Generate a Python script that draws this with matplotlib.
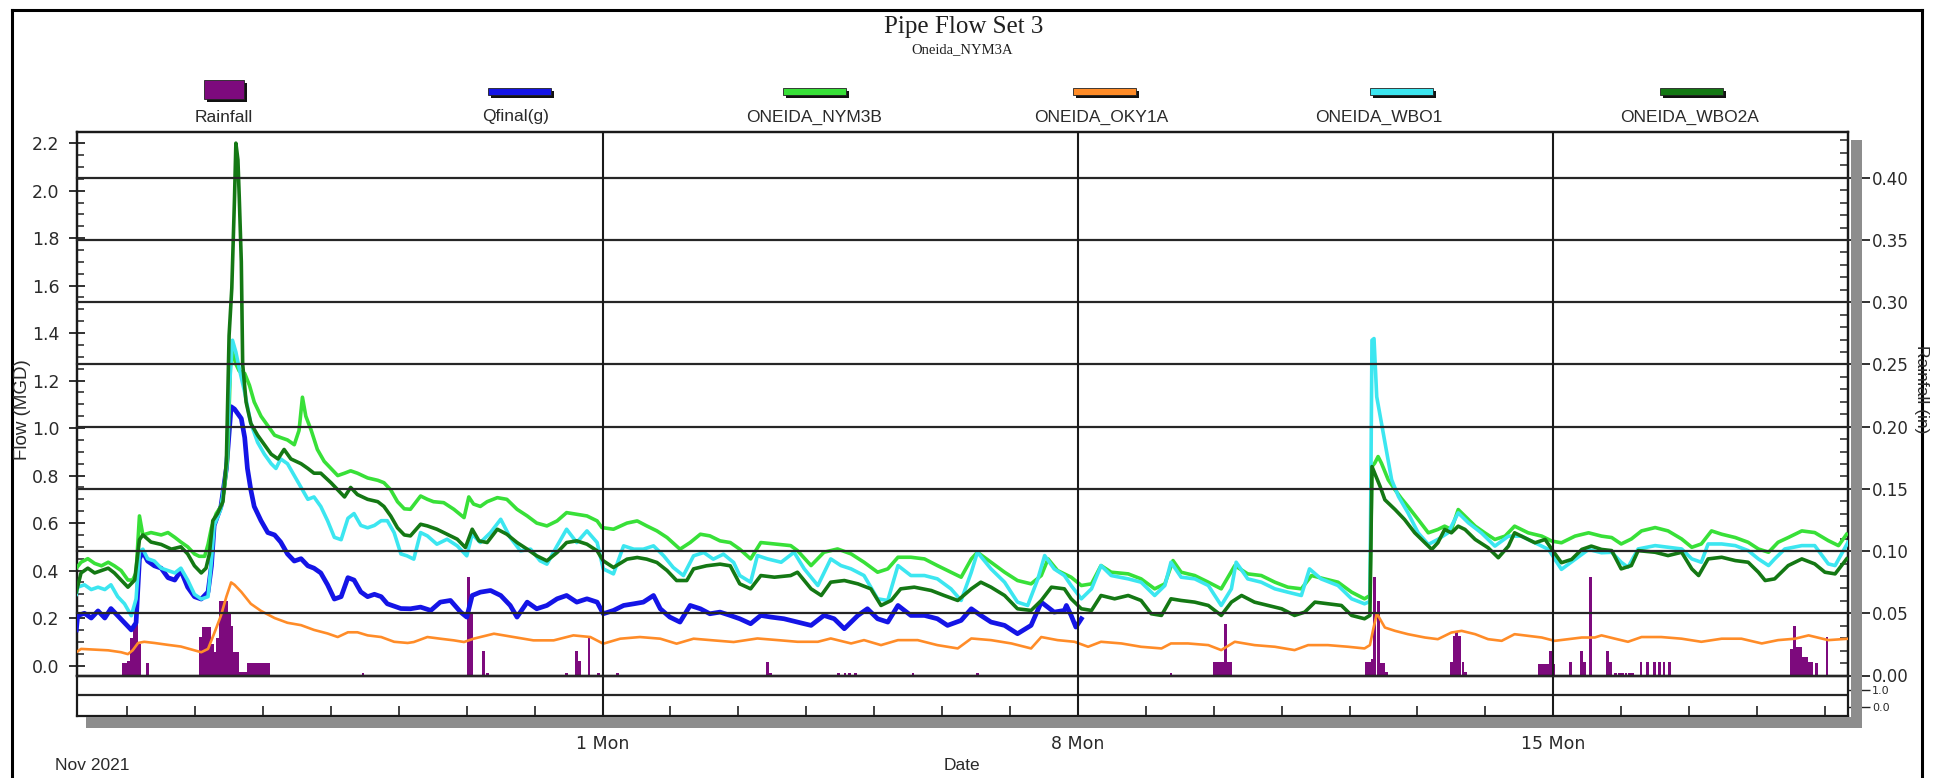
import datetime as dt
import numpy as np
import matplotlib
matplotlib.use("Agg")
import matplotlib.pyplot as plt
from matplotlib.patches import Rectangle
from matplotlib.lines import Line2D
from matplotlib.ticker import MultipleLocator, FixedLocator
from matplotlib.transforms import blended_transform_factory

# ------------------------------------------------------------------ data
# time values are days from start_date (Nov 1 2021 00:00)
start_date = dt.datetime(2021, 11, 1)
x_range = (-7.747, 18.34)
day_labels = [0, 7, 14]

series_names = ["Rainfall", "Qfinal(g)", "ONEIDA_NYM3B", "ONEIDA_OKY1A", "ONEIDA_WBO1", "ONEIDA_WBO2A"]
series_colors = ["#7D0A7D", "#1414E6", "#38E038", "#FF8C28", "#3CE6F0", "#147814"]

rainfall = [(-7.08,0.010),(-7.04,0.010),(-7.00,0.012),(-6.96,0.030),(-6.92,0.039),(-6.88,0.047),(-6.84,0.025),(-6.72,0.010),
    (-5.94,0.031),(-5.90,0.039),(-5.85,0.039),(-5.81,0.039),(-5.77,0.025),(-5.73,0.019),(-5.69,0.030),(-5.65,0.060),(-5.60,0.060),
    (-5.56,0.060),(-5.52,0.051),(-5.48,0.040),(-5.44,0.019),(-5.40,0.019),(-5.35,0.003),(-5.31,0.003),(-5.27,0.003),(-5.23,0.010),
    (-5.19,0.010),(-5.15,0.010),(-5.10,0.010),(-5.06,0.010),(-5.02,0.010),(-4.98,0.010),(-4.94,0.010),(-3.55,0.002),
    (-1.99,0.079),(-1.95,0.050),(-1.77,0.020),(-1.72,0.002),(-0.55,0.002),(-0.40,0.020),(-0.36,0.012),(-0.22,0.031),(-0.08,0.002),
    (0.20,0.002),(2.41,0.011),(2.45,0.002),(3.45,0.002),(3.55,0.002),(3.62,0.002),(3.70,0.002),(4.55,0.002),(5.50,0.002),
    (8.35,0.002),(8.99,0.011),(9.03,0.011),(9.07,0.011),(9.11,0.011),(9.15,0.041),(9.19,0.011),(9.23,0.011),
    (11.23,0.011),(11.27,0.011),(11.31,0.013),(11.35,0.079),(11.40,0.060),(11.44,0.010),(11.48,0.010),(11.52,0.003),
    (12.48,0.011),(12.52,0.032),(12.56,0.035),(12.60,0.032),(12.65,0.011),(12.69,0.003),
    (13.77,0.009),(13.81,0.009),(13.85,0.009),(13.89,0.009),(13.94,0.020),(13.98,0.009),
    (14.23,0.011),(14.40,0.020),(14.44,0.011),(14.53,0.079),(14.78,0.020),(14.82,0.011),(14.90,0.002),(14.95,0.002),(15.00,0.002),
    (15.05,0.002),(15.10,0.002),(15.15,0.002),(15.27,0.011),(15.37,0.011),(15.47,0.011),(15.54,0.011),(15.61,0.011),(15.69,0.011),
    (17.49,0.021),(17.53,0.040),(17.58,0.023),(17.62,0.023),(17.66,0.015),(17.71,0.015),(17.75,0.011),(17.79,0.011),(17.85,0.010),
    (18.01,0.031)]

qfinal = [(-7.75,0.15),(-7.73,0.21),(-7.63,0.22),(-7.53,0.20),(-7.43,0.23),(-7.33,0.20),(-7.24,0.24),(-7.14,0.21),(-7.04,0.18),
    (-6.94,0.15),(-6.87,0.18),(-6.82,0.45),(-6.77,0.48),(-6.70,0.44),(-6.60,0.42),(-6.50,0.41),(-6.40,0.37),(-6.30,0.36),(-6.21,0.40),
    (-6.11,0.33),(-6.01,0.29),(-5.91,0.28),(-5.81,0.31),(-5.76,0.42),(-5.72,0.59),(-5.62,0.67),(-5.54,0.83),(-5.47,1.09),(-5.42,1.08),
    (-5.37,1.06),(-5.32,1.04),(-5.27,0.96),(-5.23,0.83),(-5.18,0.74),(-5.13,0.67),(-5.03,0.61),(-4.93,0.56),(-4.83,0.55),(-4.74,0.52),
    (-4.64,0.47),(-4.54,0.44),(-4.44,0.45),(-4.34,0.42),(-4.25,0.41),(-4.15,0.39),(-4.05,0.34),(-3.95,0.28),(-3.85,0.29),(-3.75,0.37),
    (-3.66,0.36),(-3.56,0.31),(-3.46,0.29),(-3.36,0.30),(-3.26,0.29),(-3.17,0.26),(-3.07,0.25),(-2.97,0.24),
    (-2.83,0.239),(-2.68,0.246),(-2.53,0.232),(-2.39,0.267),(-2.24,0.274),(-2.09,0.225),(-2.00,0.204),(-1.92,0.295),(-1.80,0.309),
    (-1.65,0.316),(-1.50,0.295),(-1.36,0.253),(-1.26,0.204),(-1.11,0.267),(-0.97,0.239),(-0.82,0.253),(-0.67,0.281),(-0.53,0.295),
    (-0.38,0.267),(-0.23,0.281),(-0.08,0.267),(0.01,0.218),(0.16,0.232),(0.31,0.253),(0.46,0.26),(0.60,0.267),(0.75,0.295),
    (0.85,0.239),(0.99,0.204),(1.14,0.183),(1.29,0.253),(1.44,0.239),(1.58,0.218),(1.73,0.225),(1.88,0.211),(2.02,0.197),
    (2.18,0.176),(2.33,0.211),(2.48,0.204),(2.67,0.197),(2.87,0.183),(3.07,0.169),(3.26,0.211),(3.41,0.197),(3.56,0.155),
    (3.76,0.211),(3.90,0.239),(4.05,0.197),(4.20,0.183),(4.35,0.253),(4.54,0.211),(4.74,0.211),(4.93,0.197),(5.08,0.169),
    (5.28,0.19),(5.43,0.239),(5.57,0.211),(5.72,0.183),(5.92,0.169),(6.11,0.134),(6.31,0.169),(6.46,0.267),(6.65,0.225),
    (6.80,0.232),(6.83,0.253),(6.90,0.211),(6.97,0.162),(7.05,0.197)]

nym3b = [(-7.75,0.41),(-7.68,0.435),(-7.58,0.45),(-7.48,0.43),(-7.38,0.42),(-7.28,0.435),(-7.19,0.42),(-7.09,0.40),(-6.99,0.36),
    (-6.92,0.36),(-6.87,0.39),(-6.82,0.63),(-6.77,0.55),(-6.65,0.56),(-6.50,0.55),(-6.40,0.56),(-6.30,0.54),(-6.21,0.52),(-6.11,0.50),
    (-6.01,0.47),(-5.94,0.46),(-5.86,0.46),(-5.81,0.51),(-5.76,0.58),(-5.69,0.64),(-5.62,0.67),(-5.57,0.74),(-5.52,0.88),(-5.48,1.27),
    (-5.45,1.32),(-5.40,1.27),(-5.35,1.24),(-5.27,1.23),(-5.20,1.18),(-5.13,1.11),(-5.03,1.05),(-4.93,1.01),(-4.83,0.97),(-4.74,0.96),
    (-4.64,0.95),(-4.54,0.93),(-4.47,0.99),(-4.42,1.13),(-4.37,1.05),(-4.29,0.99),(-4.20,0.91),(-4.10,0.86),(-4.00,0.83),(-3.90,0.80),
    (-3.80,0.81),(-3.71,0.82),(-3.61,0.81),(-3.46,0.79),(-3.31,0.78),(-3.22,0.77),(-3.12,0.74),(-3.02,0.69),(-2.92,0.66),
    (-2.83,0.658),(-2.68,0.714),(-2.58,0.70),(-2.49,0.69),(-2.34,0.686),(-2.19,0.658),(-2.04,0.623),(-1.97,0.71),(-1.90,0.68),
    (-1.80,0.67),(-1.70,0.69),(-1.55,0.707),(-1.41,0.70),(-1.26,0.658),(-1.11,0.63),(-0.97,0.60),(-0.82,0.588),(-0.67,0.609),
    (-0.53,0.644),(-0.38,0.637),(-0.23,0.63),(-0.08,0.609),(-0.01,0.581),(0.16,0.574),(0.36,0.60),(0.51,0.609),(0.65,0.588),
    (0.80,0.567),(0.95,0.539),(1.14,0.49),(1.29,0.518),(1.44,0.553),(1.58,0.546),(1.73,0.525),(1.88,0.518),(2.02,0.49),
    (2.18,0.449),(2.33,0.518),(2.53,0.512),(2.77,0.505),(2.87,0.484),(3.07,0.421),(3.26,0.477),(3.46,0.491),(3.66,0.47),
    (3.85,0.435),(4.05,0.393),(4.20,0.407),(4.35,0.456),(4.54,0.456),(4.74,0.449),(4.93,0.421),(5.13,0.393),(5.28,0.372),
    (5.43,0.449),(5.52,0.477),(5.72,0.435),(5.92,0.393),(6.11,0.358),(6.31,0.344),(6.46,0.379),(6.56,0.449),(6.70,0.40),
    (6.90,0.372),(7.05,0.337),(7.20,0.344),(7.34,0.421),(7.49,0.393),(7.74,0.386),(7.93,0.365),(8.13,0.323),(8.28,0.344),
    (8.40,0.442),(8.52,0.393),(8.72,0.379),(8.92,0.351),(9.11,0.323),(9.31,0.421),(9.50,0.386),(9.70,0.379),(9.90,0.351),
    (10.09,0.33),(10.29,0.323),(10.44,0.379),(10.63,0.365),(10.83,0.351),(11.03,0.309),(11.22,0.281),(11.30,0.295),
    (11.33,0.838),(11.37,0.852),(11.42,0.88),(11.47,0.852),(11.57,0.782),(11.67,0.74),(11.76,0.705),(11.86,0.67),(12.01,0.615),
    (12.16,0.559),(12.30,0.573),(12.40,0.587),(12.50,0.573),(12.60,0.657),(12.70,0.629),(12.85,0.587),(12.99,0.559),(13.14,0.531),
    (13.29,0.545),(13.43,0.587),(13.63,0.559),(13.83,0.545),(13.98,0.524),(14.12,0.517),(14.32,0.545),(14.52,0.559),(14.71,0.545),
    (14.86,0.539),(15.00,0.512),(15.15,0.533),(15.30,0.567),(15.50,0.581),(15.69,0.567),(15.89,0.533),(16.04,0.498),(16.18,0.512),
    (16.33,0.567),(16.48,0.553),(16.68,0.539),(16.87,0.519),(17.02,0.491),(17.17,0.477),(17.31,0.519),(17.46,0.539),(17.66,0.567),
    (17.85,0.56),(18.05,0.526),(18.20,0.505),(18.32,0.553)]

oky1a = [(-7.75,0.056),(-7.68,0.07),(-7.48,0.067),(-7.28,0.064),(-7.09,0.056),(-6.99,0.048),(-6.92,0.064),(-6.84,0.095),(-6.75,0.10),
    (-6.60,0.095),(-6.40,0.087),(-6.21,0.08),(-6.01,0.064),(-5.91,0.056),(-5.81,0.07),(-5.72,0.135),(-5.62,0.21),(-5.54,0.29),
    (-5.47,0.35),(-5.42,0.34),(-5.32,0.31),(-5.18,0.26),(-5.03,0.23),(-4.83,0.20),(-4.64,0.18),(-4.44,0.17),(-4.25,0.15),
    (-4.05,0.135),(-3.90,0.12),(-3.75,0.14),(-3.61,0.14),(-3.46,0.127),(-3.26,0.12),(-3.07,0.10),(-2.87,0.095),
    (-2.78,0.099),(-2.58,0.12),(-2.39,0.113),(-2.19,0.106),(-2.04,0.099),(-1.90,0.113),(-1.60,0.134),(-1.31,0.12),(-1.02,0.106),
    (-0.72,0.106),(-0.43,0.127),(-0.18,0.12),(0.01,0.092),(0.26,0.113),(0.55,0.12),(0.85,0.113),(1.09,0.092),(1.34,0.113),
    (1.63,0.106),(1.93,0.099),(2.28,0.114),(2.58,0.107),(2.87,0.10),(3.17,0.10),(3.36,0.114),(3.66,0.093),(3.85,0.107),
    (4.10,0.086),(4.35,0.107),(4.64,0.107),(4.93,0.086),(5.23,0.072),(5.43,0.114),(5.72,0.107),(6.02,0.093),(6.31,0.072),
    (6.46,0.12),(6.70,0.107),(6.95,0.10),(7.15,0.079),(7.34,0.10),(7.64,0.093),(7.93,0.079),(8.23,0.072),(8.37,0.093),
    (8.62,0.093),(8.92,0.086),(9.11,0.065),(9.31,0.10),(9.60,0.086),(9.90,0.079),(10.19,0.065),(10.39,0.086),(10.68,0.086),
    (10.98,0.079),(11.22,0.072),(11.30,0.086),(11.35,0.155),(11.40,0.218),(11.42,0.21),(11.52,0.16),(11.67,0.146),(11.86,0.132),
    (12.11,0.118),(12.30,0.111),(12.50,0.139),(12.65,0.146),(12.85,0.132),(13.04,0.111),(13.24,0.104),(13.43,0.132),(13.63,0.125),
    (13.83,0.118),(14.02,0.104),(14.22,0.111),(14.42,0.118),(14.61,0.118),(14.71,0.127),(14.91,0.113),(15.10,0.10),(15.30,0.12),
    (15.59,0.12),(15.89,0.113),(16.18,0.10),(16.48,0.113),(16.77,0.113),(17.07,0.093),(17.31,0.107),(17.56,0.113),(17.76,0.127),
    (18.05,0.107),(18.35,0.113)]

wbo1 = [(-7.75,0.30),(-7.73,0.33),(-7.63,0.34),(-7.53,0.32),(-7.43,0.33),(-7.33,0.32),(-7.24,0.34),(-7.14,0.29),(-7.04,0.26),
    (-6.94,0.21),(-6.87,0.28),(-6.82,0.48),(-6.77,0.49),(-6.70,0.45),(-6.60,0.44),(-6.50,0.41),(-6.40,0.40),(-6.30,0.39),(-6.21,0.41),
    (-6.11,0.36),(-6.01,0.30),(-5.91,0.28),(-5.81,0.29),(-5.76,0.44),(-5.72,0.59),(-5.62,0.66),(-5.54,0.83),(-5.50,1.15),(-5.45,1.37),
    (-5.40,1.32),(-5.35,1.25),(-5.27,1.15),(-5.18,1.02),(-5.08,0.94),(-4.98,0.89),(-4.88,0.85),(-4.81,0.83),(-4.74,0.87),(-4.64,0.85),
    (-4.54,0.80),(-4.44,0.75),(-4.34,0.70),(-4.25,0.71),(-4.15,0.67),(-4.05,0.61),(-3.95,0.54),(-3.85,0.53),(-3.75,0.62),(-3.66,0.64),
    (-3.56,0.59),(-3.46,0.58),(-3.36,0.59),(-3.26,0.61),(-3.17,0.61),(-3.07,0.56),(-2.97,0.47),
    (-2.88,0.462),(-2.78,0.448),(-2.68,0.56),(-2.58,0.546),(-2.44,0.511),(-2.29,0.532),(-2.14,0.504),(-2.00,0.462),(-1.92,0.553),
    (-1.80,0.518),(-1.65,0.56),(-1.50,0.616),(-1.36,0.539),(-1.21,0.483),(-1.06,0.49),(-0.92,0.441),(-0.82,0.427),(-0.67,0.504),
    (-0.53,0.574),(-0.38,0.518),(-0.23,0.567),(-0.08,0.518),(0.01,0.407),(0.16,0.386),(0.31,0.504),(0.46,0.49),(0.60,0.49),
    (0.75,0.504),(0.90,0.462),(1.04,0.413),(1.19,0.379),(1.34,0.462),(1.49,0.476),(1.63,0.448),(1.78,0.469),(1.93,0.434),(2.02,0.379),
    (2.18,0.351),(2.28,0.463),(2.43,0.449),(2.63,0.435),(2.82,0.477),(2.97,0.407),(3.17,0.337),(3.36,0.449),(3.51,0.421),(3.66,0.407),
    (3.85,0.379),(4.05,0.281),(4.20,0.274),(4.35,0.421),(4.54,0.379),(4.74,0.379),(4.93,0.365),(5.13,0.323),(5.28,0.274),(5.43,0.393),
    (5.52,0.477),(5.72,0.407),(5.92,0.351),(6.11,0.267),(6.26,0.253),(6.41,0.365),(6.51,0.463),(6.65,0.407),(6.80,0.379),
    (6.90,0.337),(7.05,0.281),(7.20,0.323),(7.34,0.421),(7.49,0.379),(7.74,0.365),(7.93,0.351),(8.13,0.295),(8.28,0.337),(8.37,0.435),
    (8.52,0.372),(8.72,0.365),(8.92,0.337),(9.11,0.253),(9.26,0.323),(9.33,0.435),(9.50,0.365),(9.70,0.351),(9.90,0.323),(10.09,0.309),
    (10.29,0.295),(10.41,0.407),(10.58,0.365),(10.83,0.337),(11.03,0.281),(11.22,0.26),(11.30,0.27),
    (11.33,1.37),(11.36,1.377),(11.40,1.132),(11.47,1.02),(11.54,0.908),(11.62,0.782),(11.72,0.712),(11.86,0.643),(12.01,0.559),
    (12.16,0.51),(12.30,0.531),(12.45,0.559),(12.60,0.643),(12.75,0.601),(12.94,0.559),(13.14,0.503),(13.34,0.545),(13.53,0.545),
    (13.73,0.517),(13.93,0.489),(14.12,0.405),(14.32,0.447),(14.52,0.489),(14.71,0.475),(14.86,0.477),(15.00,0.435),(15.10,0.414),
    (15.25,0.491),(15.50,0.505),(15.69,0.498),(15.89,0.491),(16.04,0.449),(16.18,0.435),(16.28,0.512),(16.48,0.512),(16.68,0.505),
    (16.87,0.484),(17.02,0.449),(17.17,0.421),(17.26,0.449),(17.41,0.491),(17.66,0.505),(17.85,0.505),(18.05,0.428),(18.15,0.421),
    (18.34,0.519)]

wbo2a = [(-7.75,0.31),(-7.68,0.39),(-7.58,0.41),(-7.48,0.39),(-7.38,0.40),(-7.28,0.41),(-7.19,0.39),(-7.09,0.36),(-6.99,0.33),
    (-6.89,0.36),(-6.82,0.53),(-6.77,0.55),(-6.65,0.52),(-6.50,0.51),(-6.35,0.49),(-6.21,0.50),(-6.11,0.47),(-6.01,0.42),(-5.91,0.39),
    (-5.84,0.41),(-5.79,0.47),(-5.74,0.61),(-5.67,0.64),(-5.59,0.69),(-5.54,0.86),(-5.50,1.39),(-5.46,1.59),(-5.42,1.97),(-5.40,2.20),
    (-5.37,2.13),(-5.35,1.97),(-5.32,1.70),(-5.30,1.27),(-5.25,1.11),(-5.18,1.02),(-5.08,0.97),(-4.98,0.93),(-4.88,0.89),(-4.78,0.87),
    (-4.69,0.91),(-4.59,0.87),(-4.44,0.85),(-4.34,0.83),(-4.25,0.81),(-4.15,0.81),(-4.00,0.77),(-3.90,0.74),(-3.80,0.71),(-3.71,0.75),
    (-3.61,0.72),(-3.46,0.70),(-3.31,0.69),(-3.22,0.67),(-3.12,0.63),(-3.02,0.58),(-2.92,0.55),
    (-2.83,0.546),(-2.68,0.595),(-2.58,0.588),(-2.44,0.574),(-2.29,0.553),(-2.14,0.532),(-2.02,0.497),(-1.92,0.574),(-1.82,0.525),
    (-1.70,0.518),(-1.55,0.574),(-1.41,0.553),(-1.26,0.518),(-1.11,0.49),(-0.97,0.462),(-0.82,0.441),(-0.67,0.476),(-0.53,0.518),
    (-0.38,0.525),(-0.23,0.511),(-0.08,0.483),(0.01,0.441),(0.16,0.413),(0.36,0.448),(0.51,0.455),(0.65,0.448),(0.80,0.434),
    (0.95,0.40),(1.09,0.358),(1.24,0.358),(1.34,0.407),(1.53,0.42),(1.73,0.427),(1.88,0.42),(2.02,0.344),
    (2.18,0.323),(2.33,0.379),(2.53,0.372),(2.77,0.379),(2.87,0.393),(3.07,0.323),(3.22,0.295),(3.36,0.351),(3.56,0.358),(3.76,0.344),
    (3.95,0.323),(4.10,0.253),(4.25,0.274),(4.39,0.323),(4.59,0.33),(4.84,0.316),(5.03,0.295),(5.23,0.274),(5.43,0.323),(5.57,0.351),
    (5.72,0.33),(5.92,0.295),(6.11,0.239),(6.31,0.232),(6.46,0.274),(6.61,0.33),(6.80,0.323),
    (6.90,0.281),(7.05,0.239),(7.20,0.232),(7.34,0.295),(7.54,0.281),(7.74,0.295),(7.93,0.274),(8.08,0.218),(8.23,0.211),(8.37,0.281),
    (8.52,0.274),(8.72,0.267),(8.92,0.253),(9.11,0.211),(9.26,0.267),(9.41,0.295),(9.60,0.267),(9.80,0.253),(10.00,0.239),(10.19,0.211),
    (10.34,0.225),(10.49,0.267),(10.68,0.26),(10.88,0.253),(11.03,0.211),(11.22,0.197),(11.30,0.211),
    (11.33,0.838),(11.37,0.81),(11.45,0.754),(11.52,0.698),(11.67,0.657),(11.81,0.615),(11.96,0.559),(12.11,0.517),(12.21,0.489),
    (12.30,0.517),(12.40,0.573),(12.50,0.559),(12.60,0.587),(12.70,0.573),(12.85,0.531),(13.04,0.496),(13.19,0.454),(13.34,0.503),
    (13.43,0.559),(13.58,0.538),(13.73,0.517),(13.88,0.531),(13.98,0.489),(14.12,0.433),(14.27,0.447),(14.42,0.489),(14.56,0.503),
    (14.71,0.489),(14.86,0.484),(15.00,0.407),(15.15,0.421),(15.25,0.484),(15.50,0.477),(15.69,0.463),(15.89,0.477),(16.04,0.407),
    (16.14,0.379),(16.28,0.449),(16.48,0.456),(16.68,0.442),(16.87,0.435),(17.02,0.393),(17.12,0.358),(17.26,0.365),(17.46,0.421),
    (17.66,0.449),(17.85,0.428),(18.00,0.393),(18.15,0.386),(18.32,0.449)]

flow_series = [qfinal, nym3b, oky1a, wbo1, wbo2a]
flow_widths = [3.4, 2.6, 1.9, 2.6, 2.6]

flow_ylim = (-0.042, 2.247)
flow_ticks = np.round(np.arange(0, 2.21, 0.2), 1)
rain_ylim = (0.0, 0.4368)
rain_ticks = np.round(np.arange(0, 0.401, 0.05), 2)
strip_ticks = [0.0, 1.0]

# ------------------------------------------------------------------ figure
W, H = 1934, 778
fig = plt.figure(figsize=(W / 100, H / 100), dpi=100)
fig.patch.set_facecolor("white")
SANS = "Liberation Sans"
SERIF = "Liberation Serif"
TXT = "#2a2a2a"


def fx(p):
    return p / W


def fy(p):
    return 1 - p / H


def pt(px):
    return px * 0.72


L, R, T, B, SB = 76.5, 1848, 132, 675.5, 716

ax = fig.add_axes([fx(L), fy(B), fx(R) - fx(L), fy(T) - fy(B)])
ax2 = ax.twinx()
ax.set_zorder(2)
ax2.set_zorder(1)
ax.patch.set_visible(False)

# rainfall bars on right axis
rt, rv = zip(*rainfall)
ax2.bar(rt, rv, width=1 / 24, align="edge", color=series_colors[0], linewidth=0)
ax2.set_ylim(*rain_ylim)

# flow lines
for data, col, lw, z in zip(flow_series, series_colors[1:], flow_widths, [3, 4, 5, 6, 7]):
    t, v = zip(*data)
    ax.plot(t, v, color=col, lw=lw, zorder=z, solid_joinstyle="round")

ax.set_xlim(*x_range)
ax.set_ylim(*flow_ylim)

# grid: horizontal at rainfall major ticks, vertical at week marks
bt = blended_transform_factory(ax.transAxes, ax2.transData)
for r in rain_ticks:
    ax.plot([0, 1], [r, r], transform=bt, color="#262626", lw=1.6, zorder=10, clip_on=False)
for d in day_labels:
    ax.axvline(d, color="#1a1a1a", lw=1.5, zorder=10)

for a in (ax, ax2):
    for s in a.spines.values():
        s.set_color("#1a1a1a")
        s.set_linewidth(1.6)

ax.xaxis.set_visible(False)
ax2.xaxis.set_visible(False)

ax.set_yticks(flow_ticks)
ax.set_yticklabels([f"{v:.1f}" for v in flow_ticks])
ax.yaxis.set_minor_locator(MultipleLocator(0.05))
ax.tick_params(axis="y", which="major", direction="inout", length=pt(16), width=1.3,
               pad=pt(9), labelsize=12.5, labelcolor=TXT, color="#222")
ax.tick_params(axis="y", which="minor", direction="in", length=pt(7), width=1.1, color="#222")

ax2.set_yticks(rain_ticks)
ax2.set_yticklabels([f"{v:.2f}" for v in rain_ticks])
ax2.yaxis.set_minor_locator(MultipleLocator(0.01))
ax2.tick_params(axis="y", which="major", direction="out", length=pt(22), width=1.3,
                pad=pt(2), labelsize=12, labelcolor=TXT, color="#222")
ax2.tick_params(axis="y", which="minor", direction="in", length=pt(8), width=1.1, color="#222")

fig.text(fx(23), fy(410), "Flow (MGD)", rotation=90, ha="center", va="center",
         family=SANS, fontsize=13.5, color=TXT)
fig.text(fx(1921), fy(389), "Rainfall (in)", rotation=270, ha="center", va="center",
         family=SANS, fontsize=12.5, color=TXT)

# lower strip panel with the date axis
sub = fig.add_axes([fx(L), fy(SB), fx(R) - fx(L), fy(B) - fy(SB)])
sub.set_xlim(*x_range)
sub.set_ylim(-0.55, 1.85)
sub.axhline(0.7, color="#262626", lw=1.6)
for d in day_labels:
    sub.axvline(d, color="#1a1a1a", lw=1.5)
for s in sub.spines.values():
    s.set_color("#1a1a1a")
    s.set_linewidth(1.6)
sub.spines["top"].set_visible(False)
sub.set_xticks(day_labels)
sub.set_xticklabels([f"{(start_date + dt.timedelta(days=d)).day} "
                     f"{(start_date + dt.timedelta(days=d)).strftime('%a')}" for d in day_labels])
sub.xaxis.set_minor_locator(FixedLocator(np.arange(-7, 19, 1)))
sub.tick_params(axis="x", which="major", length=0, pad=pt(19), labelsize=12.5, labelcolor=TXT)
sub.tick_params(axis="x", which="minor", direction="in", length=pt(10), width=1.2, color="#222")
sub.yaxis.tick_right()
sub.set_yticks(strip_ticks)
sub.set_yticklabels([f"{v:.1f}" for v in strip_ticks])
sub.tick_params(axis="y", which="major", direction="out", length=pt(22), width=1.0,
                pad=pt(2), labelsize=8, labelcolor=TXT, color="#222")

# 3-D shadow bars along right and bottom axes
fig.add_artist(Rectangle((fx(1851), fy(728)), fx(11), (728 - 140) / H, transform=fig.transFigure,
                         facecolor="#8d8d8d", edgecolor="none", zorder=5))
fig.add_artist(Rectangle((fx(86), fy(728)), fx(1862 - 86), 11 / H, transform=fig.transFigure,
                         facecolor="#8d8d8d", edgecolor="none", zorder=5))

fig.text(fx(55), fy(766), f"{start_date.strftime('%b')} {start_date.year}", ha="left", va="center",
         family=SANS, fontsize=12.5, color=TXT)
fig.text(fx(962), fy(766), "Date", ha="center", va="center", family=SANS, fontsize=12.5, color=TXT)

# titles
fig.text(fx(964), fy(27), "Pipe Flow Set 3", ha="center", va="center", family=SERIF, fontsize=18, color="#202020")
fig.text(fx(962), fy(50), "Oneida_NYM3A", ha="center", va="center", family=SERIF, fontsize=10.5, color="#202020")

# legend row
sym_cx = [224, 519, 814, 1104, 1401, 1691]
lab_cx = [224, 516, 814, 1101, 1379, 1690]
for i, (name, col) in enumerate(zip(series_names, series_colors)):
    cx = sym_cx[i]
    if i == 0:
        w, h, top = 40, 19, 80
    else:
        w, h, top = 63, 7, 88
    fig.add_artist(Rectangle((fx(cx - w / 2 + 3), fy(top + h + 3)), fx(w), h / H, transform=fig.transFigure,
                             facecolor="#111111", edgecolor="none"))
    fig.add_artist(Rectangle((fx(cx - w / 2), fy(top + h)), fx(w), h / H, transform=fig.transFigure,
                             facecolor=col, edgecolor="#222222", linewidth=0.6))
    fig.text(fx(lab_cx[i]), fy(117), name, ha="center", va="center", family=SANS, fontsize=12.5, color=TXT)

# outer frame
for xs, ys in [((12, 12), (10, 790)), ((12, 1922), (10, 10)), ((1922, 1922), (10, 790))]:
    fig.add_artist(Line2D([fx(xs[0]), fx(xs[1])], [fy(ys[0]), fy(ys[1])], transform=fig.transFigure,
                          color="black", lw=2.2))

fig.savefig("out.png", dpi=100)
